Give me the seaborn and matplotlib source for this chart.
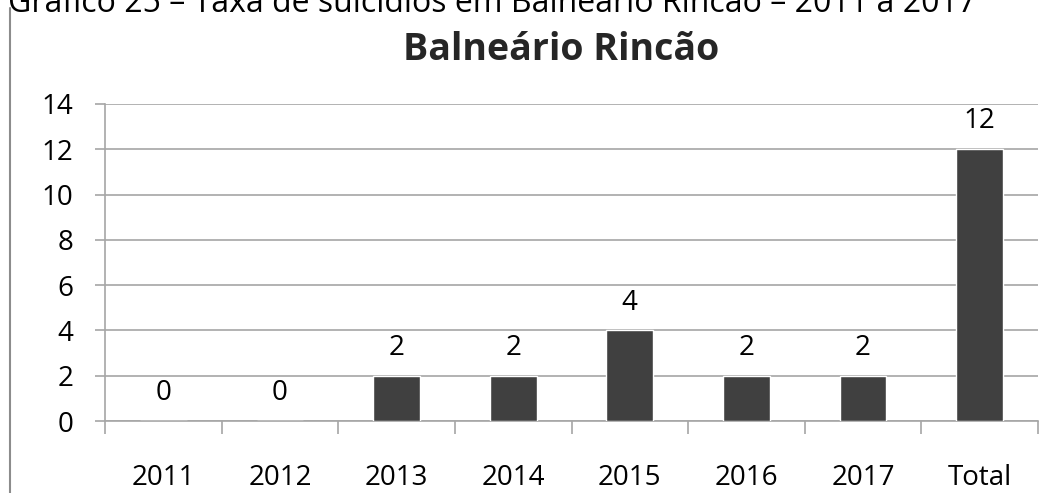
import matplotlib.pyplot as plt
import seaborn as sns
import pandas as pd
import numpy as np

# data
anos = ["2011", "2012", "2013", "2014", "2015", "2016", "2017", "Total"]
casos = [0, 0, 2, 2, 4, 2, 2, 12]

sns.set_theme(style="white")
plt.rcParams['font.family'] = ['Open Sans', 'DejaVu Sans']

df = pd.DataFrame({"ano": anos, "casos": casos})

fig = plt.figure(figsize=(10.53, 4.93), dpi=100)
ax = fig.add_axes([105 / 1053, 1 - 421 / 493, 933 / 1053, 317 / 493])

sns.barplot(data=df, x="ano", y="casos", color="#404040", width=0.4,
            saturation=1, ax=ax, zorder=3)

ax.set_ylim(0, 14)
ax.set_yticks(np.arange(0, 15, 2))
ax.set_xlim(-0.5, len(anos) - 0.5)
ax.grid(axis="y", color="#a6a6a6", linewidth=1.2, zorder=0)
ax.set_axisbelow(True)

for s in ["top", "right"]:
    ax.spines[s].set_visible(False)
for s in ["left", "bottom"]:
    ax.spines[s].set_color("#a6a6a6")
    ax.spines[s].set_linewidth(1.2)

ax.set_xlabel("")
ax.set_ylabel("")
ax.tick_params(axis="y", length=7, width=1.2, color="#a6a6a6", pad=16,
               labelsize=20, labelcolor="black", left=True)
ax.tick_params(axis="x", which="major", length=0, pad=31, labelsize=20,
               labelcolor="black")
ax.set_xticks(np.arange(-0.5, len(anos), 1), minor=True)
ax.tick_params(axis="x", which="minor", length=9, width=1.2,
               color="#a6a6a6", bottom=True)

for c in ax.containers:
    ax.bar_label(c, labels=[str(v) for v in casos], padding=10, fontsize=20,
                 color="black")

fig.text(561 / 1053, 1 - 50 / 493, "Balneário Rincão", ha="center",
         va="center", fontsize=27, fontweight="bold")

# page caption cut off at the top
fig.text(8 / 1053, 1 - 12 / 493,
         "Gráfico 25 – Taxa de suicídios em Balneário Rincão – 2011 a 2017",
         ha="left", va="baseline", fontsize=23, color="black")

# page border line at the left
fig.add_artist(plt.Line2D([10 / 1053, 10 / 1053], [0, 1 - 8 / 493],
                          color="#8c8c8c", linewidth=1.5))

fig.savefig("out.png", dpi=100)
